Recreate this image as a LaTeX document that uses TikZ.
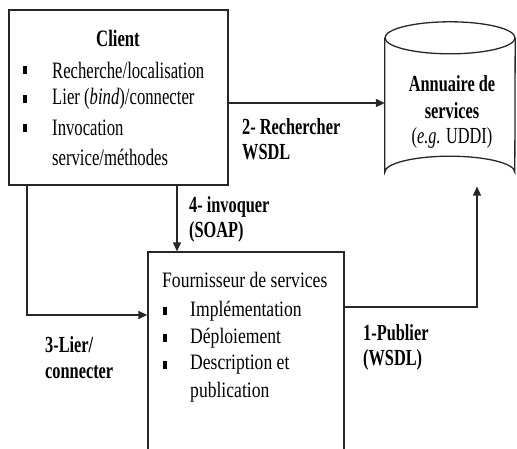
\documentclass[tikz,border=0pt]{standalone}
\usepackage{fontspec}
\setmainfont{Liberation Serif}[FakeStretch=0.71]
\newfontfamily\provfont{Liberation Serif}[FakeStretch=0.80]
\usetikzlibrary{arrows.meta}
\begin{document}
\begin{tikzpicture}[x=1pt,y=-1pt,
  line/.style={line width=1.3pt,draw=black!85},
  arr/.style={line, -{Triangle[length=9pt,width=8pt]}},
  box/.style={line, rectangle, inner sep=0pt},
  txt/.style={inner sep=0pt, anchor=west, font=\fontsize{23.5}{27}\selectfont},
  ptxt/.style={inner sep=0pt, anchor=west, font=\provfont\fontsize{22}{26}\selectfont},
  lbl/.style={inner sep=0pt, anchor=west, font=\fontsize{23}{27}\selectfont\bfseries},
  bul/.style={fill=black, inner sep=0pt, minimum width=4pt, minimum height=7.5pt}
]
\useasboundingbox (0,0) rectangle (517,448);
\clip (0,0) rectangle (517,448);
% Client box
\node[box, draw, minimum width=219pt, minimum height=175pt] (client) at (118.5,97.5) {};
\node[inner sep=0pt, font=\fontsize{23.5}{27}\selectfont\bfseries] (ctitle) at (118,38) {Client};
\node[bul] (cb1) at (25,70) {};
\node[txt] (c1) at (52,70) {Recherche/localisation};
\node[bul] (cb2) at (25,99) {};
\node[txt] (c2) at (52,99) {Lier (\textit{bind})/connecter};
\node[bul] (cb3) at (25,128) {};
\node[txt] (c3) at (52,128) {Invocation};
\node[txt] (c4) at (52,157) {service/méthodes};
% Directory cylinder
\node[inner sep=0pt, minimum width=130pt, minimum height=134pt] (dir) at (450,105) {};
\draw[line] (dir.north west) -- (dir.south west)
  arc[start angle=180, end angle=0, x radius=65pt, y radius=16pt] -- (dir.north east);
\draw[line] (dir.north) ellipse [x radius=65pt, y radius=16pt];
\node[inner sep=0pt, font=\fontsize{23}{27}\selectfont\bfseries] (d1) at (452,84) {Annuaire de};
\node[inner sep=0pt, font=\fontsize{23}{27}\selectfont\bfseries] (d2) at (452,111) {services};
\node[inner sep=0pt, font=\fontsize{23}{27}\selectfont] (d3) at (452,138) {(\textit{e.g.} UDDI)};
\coordinate (dirbot) at (477,186.5);
% Provider box
\node[box, draw, minimum width=196pt, minimum height=210pt] (prov) at (246,357) {};
\node[ptxt] (ptitle) at (162,280) {Fournisseur de services};
\node[bul] (pb1) at (165,311) {};
\node[ptxt] (p1) at (190,311) {Implémentation};
\node[bul] (pb2) at (165,338) {};
\node[ptxt] (p2) at (190,338) {Déploiement};
\node[bul] (pb3) at (165,365) {};
\node[ptxt] (p3) at (190,365) {Description et};
\node[ptxt] (p4) at (190,392) {publication};
% Connectors
\draw[arr] (client.east |- 0,103) -- (dir.west |- 0,103);
\draw[arr] (client.south -| 177,0) -- (prov.north -| 177,0);
\draw[arr] (client.south -| 27,0) |- (prov.west |- 0,315);
\draw[arr] (prov.east |- 0,307) -| (dirbot);
% Labels
\node[lbl] (l2a) at (242,127) {2- Rechercher};
\node[lbl] (l2b) at (242,152) {WSDL};
\node[lbl] (l4a) at (189,207) {4- invoquer};
\node[lbl] (l4b) at (189,232) {(SOAP)};
\node[lbl] (l3a) at (45,345) {3-Lier/};
\node[lbl] (l3b) at (45,372) {connecter};
\node[lbl] (l1a) at (363,333) {1-Publier};
\node[lbl] (l1b) at (363,360) {(WSDL)};
\end{tikzpicture}
\end{document}
